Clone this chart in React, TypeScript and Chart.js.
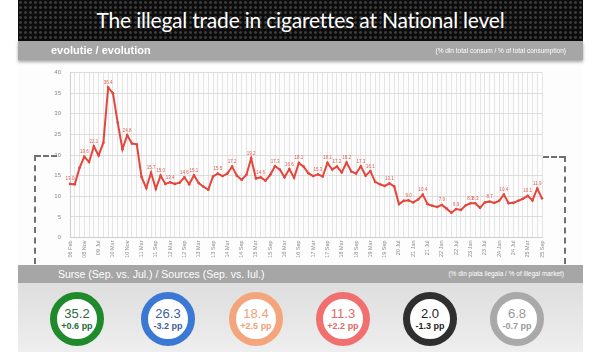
import React, { useEffect, useRef } from "react";
import { Chart, registerables } from "chart.js";

Chart.register(...registerables);

const TITLE = "The illegal trade in cigarettes at National level";

const tickLabels = [
  "06 Feb", "08 Nov", "09 Jul", "10 Mar", "10 Nov", "11 Mar", "11 Sep", "12 Mar", "12 Sep",
  "13 Mar", "13 Sep", "14 Mar", "14 Sep", "15 Mar", "15 Sep", "16 Mar", "16 Sep", "17 Mar",
  "17 Sep", "18 Mar", "18 Sep", "19 Mar", "19 Sep", "20 Jul", "21 Jan", "21 Jul", "22 Jan",
  "22 Jul", "23 Jan", "23 Jul", "24 Jan", "24 Jul", "25 Mar", "25 Sep",
];

const illegalShare = [
  13.0, 12.9, 16.9, 19.6, 18.3, 22.1, 19.9, 23.0, 36.4, 35.0,
  27.9, 21.4, 24.8, 22.8, 22.6,
  14.7, 12.0, 15.7, 11.8, 15.0, 13.0, 13.4, 13.0, 13.3, 14.6,
  12.9, 15.1, 13.2, 12.3, 11.6, 14.8, 15.5, 14.9, 15.5, 17.2,
  15.0, 14.0, 15.2, 19.2, 14.3, 14.6, 13.8, 15.2, 17.3, 16.5,
  14.6, 16.6, 14.5, 18.1, 17.2, 15.6, 14.9, 15.3, 14.8, 18.1,
  16.5, 17.2, 15.8, 18.2, 16.0, 15.5, 17.3, 15.0, 16.1, 13.5,
  12.9, 12.5, 13.1, 12.4, 8.1, 8.9, 9.0, 8.5, 9.2, 10.4,
  8.1, 7.7, 7.4, 7.9, 7.0, 6.0, 6.9, 6.7, 7.8, 8.3,
  8.3, 7.2, 8.5, 8.7, 8.4, 8.9, 10.4, 8.3, 8.4, 8.9,
  9.4, 10.1, 9.0, 11.9, 9.5,
];

const sourceValues = ["35.2", "26.3", "18.4", "11.3", "2.0", "6.8"];
const sourceChanges = ["+0.6 pp", "-3.2 pp", "+2.5 pp", "+2.2 pp", "-1.3 pp", "-0.7 pp"];
const ringColors = ["#1e8a2c", "#3a78d4", "#f4a57c", "#f26f6f", "#2f2f2f", "#a9a9a9"];
const textColors = ["#2b6b3a", "#3d5f9c", "#f0a078", "#e06a6a", "#1e1e1e", "#9a9a9a"];
const ringCenters = [77, 168, 256, 343, 430, 517];

const xLabels = illegalShare.map((_, i) => (i % 3 === 0 ? tickLabels[i / 3] : ""));

const LINE = "#e5463c";

const labelPlugin = {
  id: "peakLabels",
  afterDatasetsDraw(chart: any) {
    const meta = chart.getDatasetMeta(0);
    const ctx = chart.ctx;
    ctx.save();
    ctx.font = "4.5px 'Liberation Sans', Arial, sans-serif";
    ctx.fillStyle = "#e05a50";
    ctx.textAlign = "center";
    ctx.textBaseline = "bottom";
    illegalShare.forEach((v, i) => {
      const prev = i > 0 ? illegalShare[i - 1] : -1;
      const next = i < illegalShare.length - 1 ? illegalShare[i + 1] : -1;
      if (v >= prev && v >= next) {
        const el = meta.data[i];
        ctx.fillText(v.toFixed(1), el.x, el.y - 2.5);
      }
    });
    ctx.restore();
  },
};

function LineChart() {
  const ref = useRef<HTMLCanvasElement | null>(null);
  useEffect(() => {
    if (!ref.current) return;
    const chart = new Chart(ref.current, {
      type: "line",
      data: {
        labels: xLabels,
        datasets: [
          {
            data: illegalShare,
            borderColor: LINE,
            backgroundColor: LINE,
            borderWidth: 2,
            pointRadius: 1.3,
            pointBackgroundColor: LINE,
            pointBorderWidth: 0,
            tension: 0,
          },
        ],
      },
      options: {
        animation: false,
        responsive: false,
        maintainAspectRatio: false,
        layout: { padding: { left: 0, right: 41, top: 7.5, bottom: 6.5 } },
        plugins: { legend: { display: false }, tooltip: { enabled: false } },
        scales: {
          x: {
            afterFit: (s: any) => { s.height = 20; },
            grid: { color: "#dedede", lineWidth: 0.8, drawTicks: false },
            border: { color: "#cfcfcf" },
            ticks: {
              autoSkip: false,
              minRotation: 90,
              maxRotation: 90,
              padding: 3,
              color: "#8a8a8a",
              font: { size: 5.5, family: "'Liberation Sans', Arial, sans-serif" },
            },
          },
          y: {
            min: 0,
            max: 40,
            afterFit: (s: any) => { s.width = 52; },
            grid: { color: "#d6d6d6", lineWidth: 0.8, drawTicks: false },
            border: { color: "#cfcfcf" },
            ticks: {
              stepSize: 5,
              padding: 9,
              color: "#8a8a8a",
              font: { size: 6, family: "'Liberation Sans', Arial, sans-serif" },
            },
          },
        },
      },
      plugins: [labelPlugin],
    });
    return () => chart.destroy();
  }, []);
  return <canvas ref={ref} width={565} height={204} style={{ position: "absolute", left: 18, top: 60, width: 565, height: 204 }} />;
}

const abs = (s: React.CSSProperties): React.CSSProperties => ({ position: "absolute", ...s });

export default function App() {
  return (
    <div style={abs({ left: 0, top: 0, width: 600, height: 352, background: "#ffffff", overflow: "hidden", fontFamily: "'Liberation Sans', Arial, sans-serif" })}>
      <div
        style={abs({
          left: 18, top: 0, width: 565, height: 41,
          backgroundColor: "#0c0c0c",
          backgroundImage: "radial-gradient(circle, #3a3a3a 1.2px, transparent 1.6px)",
          backgroundSize: "5px 5px",
        })}
      />
      <div
        style={abs({
          left: 18, top: 0, width: 565, height: 38, display: "flex", alignItems: "center", justifyContent: "center",
          color: "#ffffff", fontFamily: "Lato, 'Open Sans', sans-serif", fontSize: 21, letterSpacing: -0.2,
        })}
      >
        {TITLE}
      </div>
      <div style={abs({ left: 18, top: 41, width: 565, height: 19, background: "#a6a6a6", boxShadow: "0 2px 3px rgba(0,0,0,0.35)", zIndex: 2 })}>
        <div style={abs({ left: 33, top: 3, color: "#fff", fontWeight: "bold", fontSize: 11 })}>evolutie / evolution</div>
        <div style={abs({ right: 17, top: 6, color: "#fff", fontSize: 6.5 })}>(% din total consum / % of total consumption)</div>
      </div>
      <div style={abs({ left: 18, top: 60, width: 565, height: 205, background: "#fdfdfd" })} />
      <LineChart />
      <div style={abs({ left: 35, top: 155, width: 22, height: 0, borderTop: "2px dashed #707070" })} />
      <div style={abs({ left: 34, top: 155, width: 0, height: 109, borderLeft: "2px dashed #707070" })} />
      <div style={abs({ left: 543, top: 156, width: 22, height: 0, borderTop: "2px dashed #707070" })} />
      <div style={abs({ left: 564, top: 156, width: 0, height: 108, borderLeft: "2px dashed #707070" })} />
      <div style={abs({ left: 18, top: 265, width: 565, height: 18, background: "#a6a6a6" })}>
        <div style={abs({ left: 40, top: 3, color: "#fff", fontSize: 10.5 })}>Surse (Sep. vs. Jul.) / Sources (Sep. vs. Iul.)</div>
        <div style={abs({ right: 19, top: 5, color: "#fff", fontSize: 6.5 })}>(% din piata ilegala / % of illegal market)</div>
      </div>
      <div style={abs({ left: 18, top: 283, width: 565, height: 69, background: "linear-gradient(#dedede, #eeeeee)" })} />
      {sourceValues.map((v, i) => (
        <div
          key={i}
          style={abs({
            left: ringCenters[i] - 27, top: 292, width: 54, height: 54, boxSizing: "border-box",
            borderRadius: "50%", border: `7px solid ${ringColors[i]}`, background: "#ffffff",
            display: "flex", flexDirection: "column", alignItems: "center", justifyContent: "center",
            color: textColors[i],
          })}
        >
          <div style={{ fontSize: 13, lineHeight: "14px" }}>{v}</div>
          <div style={{ fontSize: 9, lineHeight: "11px", fontWeight: "bold" }}>{sourceChanges[i]}</div>
        </div>
      ))}
    </div>
  );
}
